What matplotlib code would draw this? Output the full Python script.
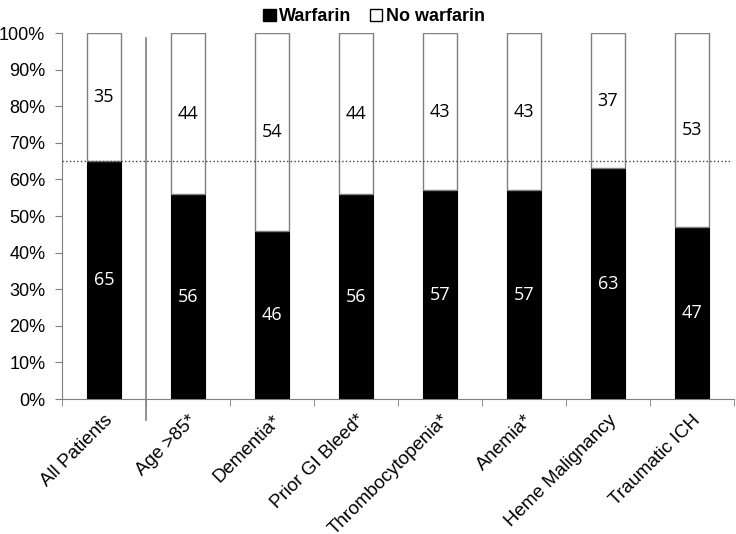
import matplotlib.pyplot as plt
from matplotlib.patches import Patch
from matplotlib.ticker import FixedLocator, PercentFormatter

categories = ['All Patients', 'Age >85*', 'Dementia*', 'Prior GI Bleed*',
              'Thrombocytopenia*', 'Anemia*', 'Heme Malignancy', 'Traumatic ICH']
warfarin = [65, 56, 46, 56, 57, 57, 63, 47]
no_warfarin = [35, 44, 54, 44, 43, 43, 37, 53]
reference_level = 65

plt.rcParams['font.family'] = ['Liberation Sans', 'DejaVu Sans']

fig = plt.figure(figsize=(7.36, 5.34), dpi=100)
ax = fig.add_axes([0.0842, 0.2528, 0.913, 0.6854])

x = list(range(len(categories)))
ax.bar(x, warfarin, width=0.4, color='black', edgecolor='black', linewidth=0.8)
ax.bar(x, no_warfarin, width=0.4, bottom=warfarin, color='white',
       edgecolor='#7f7f7f', linewidth=1.0)

for i in x:
    ax.text(i, warfarin[i] / 2, str(warfarin[i]), color='white', ha='center',
            va='center', fontsize=13, family=['Open Sans', 'DejaVu Sans'])
    ax.text(i, warfarin[i] + no_warfarin[i] / 2, str(no_warfarin[i]), color='black',
            ha='center', va='center', fontsize=13, family=['Open Sans', 'DejaVu Sans'])

ax.axhline(reference_level, xmin=0, xmax=0.997, color='#404040', linestyle=':', linewidth=1)
ax.plot([0.5, 0.5], [98.6, -5.7], color='#7f7f7f', linewidth=1.2, clip_on=False)

ax.set_xlim(-0.5, len(categories) - 0.5)
ax.set_ylim(0, 100)
ax.set_yticks(range(0, 101, 10))
ax.yaxis.set_major_formatter(PercentFormatter(decimals=0))
ax.set_xticks(x)
ax.set_xticklabels(categories, rotation=45, ha='right', rotation_mode='anchor')
ax.xaxis.set_minor_locator(FixedLocator([i - 0.5 for i in range(len(categories) + 1)]))
ax.tick_params(axis='x', which='major', length=0, pad=9, labelsize=13.5)
ax.tick_params(axis='x', which='minor', length=5, color='#7f7f7f', direction='out')
ax.tick_params(axis='y', length=5, color='#7f7f7f', labelsize=13, pad=7)

for side in ['top', 'right']:
    ax.spines[side].set_visible(False)
for side in ['left', 'bottom']:
    ax.spines[side].set_color('#7f7f7f')

handles = [Patch(facecolor='black', edgecolor='black', label='Warfarin'),
           Patch(facecolor='white', edgecolor='black', label='No warfarin')]
fig.legend(handles=handles, loc='upper center', bbox_to_anchor=(0.508, 1.015), ncol=2,
           frameon=False, handlelength=0.7, handleheight=0.7, handletextpad=0.2,
           columnspacing=1.0, prop={'weight': 'bold', 'size': 13})

fig.savefig('out.png', dpi=100)
